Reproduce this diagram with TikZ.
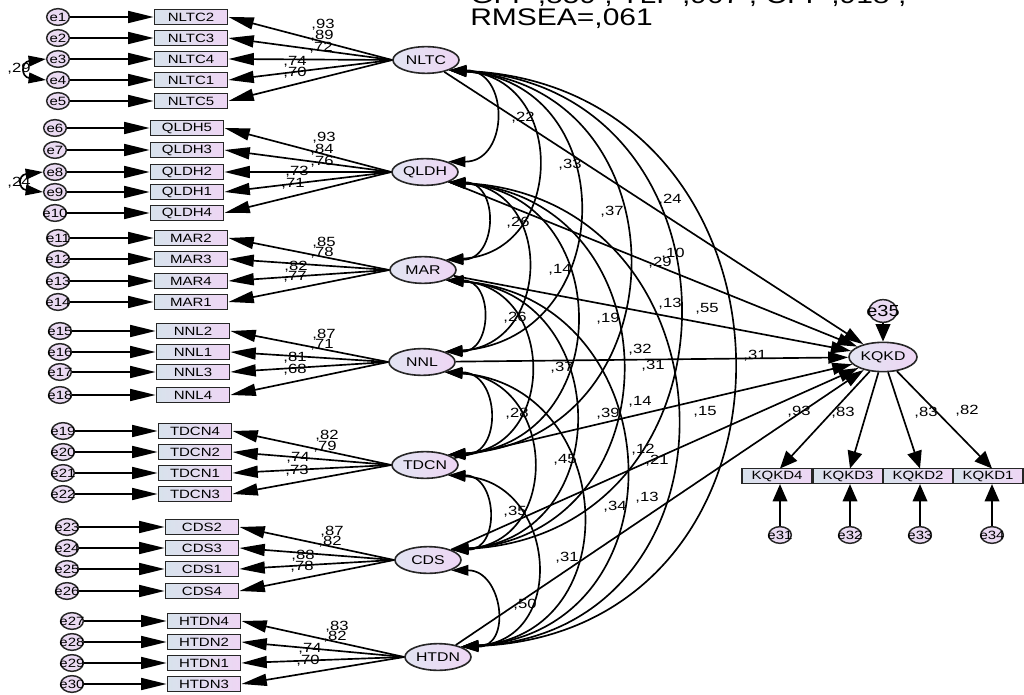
\documentclass[tikz,border=0pt]{standalone}
\usepackage{fontspec}
\setmainfont{Liberation Sans}[FakeStretch=1.25]
\usetikzlibrary{arrows.meta,calc,shapes.geometric}
\definecolor{boxL}{RGB}{216,226,236}
\definecolor{boxR}{RGB}{238,214,244}
\definecolor{errF}{RGB}{234,218,242}
\definecolor{latL}{RGB}{226,228,242}
\definecolor{latR}{RGB}{238,214,244}
\newcommand\obsrow[5]{%
  \node[err] (#1) at (#2,#5) {\makebox[0pt]{#1}};
  \node[obs] (#3) at (#4,#5) {#3};
  \draw[harr] (#1) -- (#3);}
\newcommand\covarc[3]{%
  \draw[cov] let \p1=(#1.-24), \p2=(#2.24), \n1={veclen(\x2-\x1,\y2-\y1)}, \n2={2*atan(#3)}, \n3={\n1*(1+#3*#3)/3}
    in (#1.-24) .. controls ($(\p1)+(\n2-90:\n3)$) and ($(\p2)+(90-\n2:\n3)$) .. (#2.24);}
\begin{document}
\begin{tikzpicture}[x=0.75pt,y=-0.75pt,
  obs/.style={draw=black!85,line width=1.2pt,rectangle,minimum width=55pt,minimum height=11pt,inner sep=0pt,left color=boxL,right color=boxR,font=\fontsize{9}{10}\selectfont},
  lat/.style={draw=black!85,line width=1.2pt,ellipse,minimum width=49.5pt,minimum height=20pt,inner sep=0pt,left color=latL,right color=latR,font=\fontsize{9.5}{10}\selectfont},
  err/.style={draw=black!85,line width=1.1pt,ellipse,minimum width=17pt,minimum height=12.5pt,inner sep=0pt,fill=errF,font=\fontsize{9}{10}\selectfont},
  lbl/.style={inner sep=0pt,font=\fontsize{10}{10}\selectfont},
  harr/.style={line width=1.25pt,-{Triangle[length=19pt,width=9pt]}},
  varr/.style={line width=1.25pt,-{Triangle[length=13pt,width=11pt]}},
  reg/.style={line width=1.25pt,-{Triangle[length=15pt,width=9pt]}},
  cov/.style={line width=1.25pt,{Triangle[length=13pt,width=8pt]}-{Triangle[length=13pt,width=8pt]}},
]
\useasboundingbox (0,0) rectangle (1024,695);
% header
\node[anchor=base west,inner sep=0pt,font=\fontsize{18}{18}\selectfont] (hdr1) at (470,4) {GFI=,859 ; TLI=,907 ; CFI=,918 ;};
\node[anchor=base west,inner sep=0pt,font=\fontsize{18}{18}\selectfont] (hdr2) at (470,26) {RMSEA=,061};
% latent variables
\node[lat] (NLTC) at (426,60) {NLTC};
\node[lat] (QLDH) at (425,172) {QLDH};
\node[lat] (MAR) at (423,270) {MAR};
\node[lat] (NNL) at (422,362) {NNL};
\node[lat] (TDCN) at (425,465) {TDCN};
\node[lat] (CDS) at (428,560) {CDS};
\node[lat] (HTDN) at (438,657) {HTDN};
% indicators
\obsrow{e1}{58}{NLTC2}{191}{17}
\obsrow{e2}{58}{NLTC3}{191}{38}
\obsrow{e3}{58}{NLTC4}{191}{59}
\obsrow{e4}{58}{NLTC1}{191}{80}
\obsrow{e5}{58}{NLTC5}{191}{101}
\obsrow{e6}{55}{QLDH5}{187}{128}
\obsrow{e7}{55}{QLDH3}{187}{150}
\obsrow{e8}{55}{QLDH2}{187}{172}
\obsrow{e9}{55}{QLDH1}{187}{192}
\obsrow{e10}{55}{QLDH4}{187}{213}
\obsrow{e11}{58}{MAR2}{191}{238}
\obsrow{e12}{58}{MAR3}{191}{259}
\obsrow{e13}{58}{MAR4}{191}{281}
\obsrow{e14}{58}{MAR1}{191}{302}
\obsrow{e15}{60}{NNL2}{193}{331}
\obsrow{e16}{60}{NNL1}{193}{352}
\obsrow{e17}{60}{NNL3}{193}{372}
\obsrow{e18}{60}{NNL4}{193}{395}
\obsrow{e19}{63}{TDCN4}{195}{431}
\obsrow{e20}{63}{TDCN2}{195}{452}
\obsrow{e21}{63}{TDCN1}{195}{473}
\obsrow{e22}{63}{TDCN3}{195}{494}
\obsrow{e23}{67}{CDS2}{202}{527}
\obsrow{e24}{67}{CDS3}{202}{548}
\obsrow{e25}{67}{CDS1}{202}{569}
\obsrow{e26}{67}{CDS4}{202}{591}
\obsrow{e27}{72}{HTDN4}{204}{621}
\obsrow{e28}{72}{HTDN2}{204}{642}
\obsrow{e29}{72}{HTDN1}{204}{663}
\obsrow{e30}{72}{HTDN3}{204}{684}
% loadings
\foreach \l/\o in {NLTC/NLTC2,NLTC/NLTC3,NLTC/NLTC4,NLTC/NLTC1,NLTC/NLTC5,
  QLDH/QLDH5,QLDH/QLDH3,QLDH/QLDH2,QLDH/QLDH1,QLDH/QLDH4,
  MAR/MAR2,MAR/MAR3,MAR/MAR4,MAR/MAR1,NNL/NNL2,NNL/NNL1,NNL/NNL3,NNL/NNL4,
  TDCN/TDCN4,TDCN/TDCN2,TDCN/TDCN1,TDCN/TDCN3,CDS/CDS2,CDS/CDS3,CDS/CDS1,CDS/CDS4,
  HTDN/HTDN4,HTDN/HTDN2,HTDN/HTDN1,HTDN/HTDN3}
  {\draw[harr] (\l.west) -- (\o.east);}
% error covariances
\draw[cov] (e3.west) .. controls +(-25,3) and +(-25,-3) .. (e4.west);
\draw[cov] (e8.west) .. controls +(-25,3) and +(-25,-3) .. (e9.west);
% latent covariances
\covarc{NLTC}{QLDH}{1.0}
\covarc{QLDH}{MAR}{1.0}
\covarc{MAR}{NNL}{1.0}
\covarc{NNL}{TDCN}{1.0}
\covarc{TDCN}{CDS}{1.0}
\covarc{CDS}{HTDN}{1.0}
\covarc{NLTC}{MAR}{0.94}
\covarc{QLDH}{NNL}{0.94}
\covarc{MAR}{TDCN}{0.94}
\covarc{NNL}{CDS}{0.94}
\covarc{TDCN}{HTDN}{0.94}
\covarc{NLTC}{NNL}{0.93}
\covarc{QLDH}{TDCN}{0.93}
\covarc{MAR}{CDS}{0.93}
\covarc{NNL}{HTDN}{0.93}
\covarc{NLTC}{TDCN}{0.93}
\covarc{QLDH}{CDS}{0.93}
\covarc{MAR}{HTDN}{0.93}
\covarc{NLTC}{CDS}{0.95}
\covarc{QLDH}{HTDN}{0.95}
\covarc{NLTC}{HTDN}{0.96}
% dependent
\node[lat,minimum width=51pt,minimum height=22pt] (KQKD) at (883,357) {KQKD};
\node[err,minimum width=21pt,minimum height=17pt,font=\fontsize{12}{12}\selectfont] (e35) at (883,311) {\makebox[0pt]{e35}};
\draw[varr] (e35) -- (KQKD);
\foreach \l in {NLTC,QLDH,MAR,NNL,TDCN,CDS,HTDN} {\draw[reg] (\l) -- (KQKD);}
\node[obs,minimum width=52.5pt] (KQKD4) at (777,476) {KQKD4};
\node[obs,minimum width=52.5pt] (KQKD3) at (848,476) {KQKD3};
\node[obs,minimum width=52.5pt] (KQKD2) at (918,476) {KQKD2};
\node[obs,minimum width=52.5pt] (KQKD1) at (988,476) {KQKD1};
\foreach \b/\e/\x in {KQKD4/e31/780,KQKD3/e32/850,KQKD2/e33/920,KQKD1/e34/992} {
  \node[err] (\e) at (\x,535) {\makebox[0pt]{\e}};
  \coordinate (\b top) at (\x,468.5);
  \draw[varr] (KQKD) -- (\b top);
  \draw[varr] (\e) -- (\e |- \b.south);
}
% labels
\foreach \x/\y/\t [count=\i] in {
 323/25/{,93},322/36/{,89},321/48/{,72},295/62/{,74},295/73/{,70},
 324/138/{,93},322/150/{,84},322/162/{,76},297/172/{,73},293/184/{,71},
 324/243/{,85},322/253/{,78},296/267/{,82},295/277/{,77},
 324/335/{,87},322/345/{,71},295/358/{,81},295/370/{,68},
 327/436/{,82},325/447/{,79},298/458/{,74},297/471/{,73},
 332/532/{,87},330/542/{,82},303/556/{,88},302/567/{,78},
 337/627/{,83},335/637/{,82},310/649/{,74},308/661/{,70},
 19/69/{,29},19/183/{,24},
 523/118/{,22},570/165/{,33},612/212/{,37},670/200/{,24},518/223/{,26},560/270/{,14},
 660/263/{,29},673/254/{,10},670/304/{,13},707/309/{,55},608/319/{,19},515/318/{,26},
 640/350/{,32},562/368/{,37},653/366/{,31},755/356/{,31},517/414/{,28},608/414/{,39},
 640/402/{,14},705/412/{,15},565/460/{,45},643/450/{,12},657/461/{,21},515/512/{,35},
 615/507/{,34},647/498/{,13},567/558/{,31},525/605/{,50},
 799/412/{,93},843/413/{,83},926/413/{,83},967/411/{,82}}
 {\node[lbl] (lab\i) at (\x,\y) {\t};}
\end{tikzpicture}
\end{document}
